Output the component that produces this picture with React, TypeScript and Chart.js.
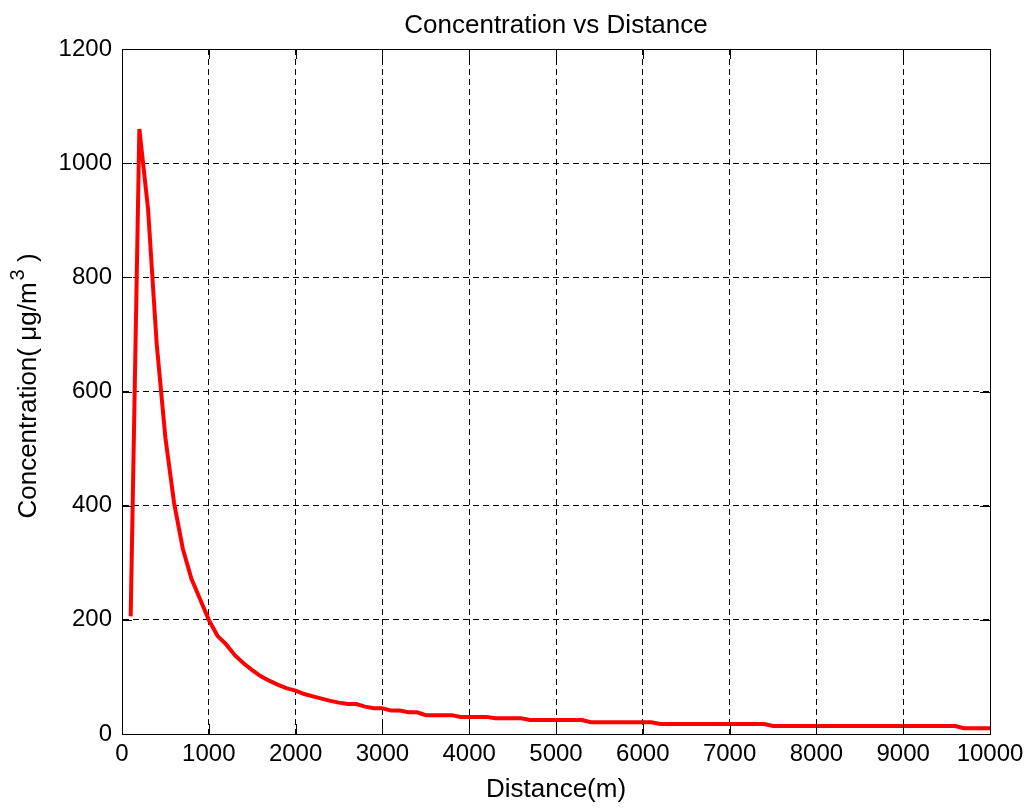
import React, { useEffect, useRef } from "react";
import { Chart, registerables } from "chart.js";

Chart.register(...registerables);

const distances: number[] = [
  100, 200, 300, 400, 500, 600, 700, 800, 900, 1000,
  1100, 1200, 1300, 1400, 1500, 1600, 1700, 1800, 1900, 2000,
  2100, 2200, 2300, 2400, 2500, 2600, 2700, 2800, 2900, 3000,
  3100, 3200, 3300, 3400, 3500, 3600, 3700, 3800, 3900, 4000,
  4100, 4200, 4300, 4400, 4500, 4600, 4700, 4800, 4900, 5000,
  5100, 5200, 5300, 5400, 5500, 5600, 5700, 5800, 5900, 6000,
  6100, 6200, 6300, 6400, 6500, 6600, 6700, 6800, 6900, 7000,
  7100, 7200, 7300, 7400, 7500, 7600, 7700, 7800, 7900, 8000,
  8100, 8200, 8300, 8400, 8500, 8600, 8700, 8800, 8900, 9000,
  9100, 9200, 9300, 9400, 9500, 9600, 9700, 9800, 9900, 10000,
];

const concentration: number[] = [
  206, 1060, 920, 683, 519, 405, 325, 272, 236, 200,
  172, 157, 138, 124, 112, 101, 93, 86, 80, 76,
  70, 66, 62, 58, 55, 52.5, 52.5, 48, 45, 45,
  41, 41, 38, 38, 33, 33, 33, 33, 30, 30,
  30, 30, 27.5, 27.5, 27.5, 27.5, 24.5, 24.5, 24.5, 24.5,
  24.5, 24.5, 24.5, 20.5, 20.5, 20.5, 20.5, 20.5, 20.5, 20.5,
  20.5, 17.5, 17.5, 17.5, 17.5, 17.5, 17.5, 17.5, 17.5, 17.5,
  17.5, 17.5, 17.5, 17.5, 14, 14, 14, 14, 14, 14,
  14, 14, 14, 14, 14, 14, 14, 14, 14, 14,
  14, 14, 14, 14, 14, 14, 10, 10, 10, 10,
];

const xTicks: number[] = [0, 1000, 2000, 3000, 4000, 5000, 6000, 7000, 8000, 9000, 10000];
const yTicks: number[] = [0, 200, 400, 600, 800, 1000, 1200];

const chartTitle = "Concentration vs Distance";
const xLabel = "Distance(m)";
const yLabelMain = "Concentration( \u03bcg/m";
const yLabelSup = "3";
const yLabelEnd = " )";

const FONT = "'Liberation Sans', Arial, Helvetica, sans-serif";

const boxPlugin = {
  id: "matlabBox",
  afterDraw(chart: any) {
    const { ctx, chartArea } = chart;
    const { left, right, top, bottom } = chartArea;
    const xs = chart.scales.x;
    const ys = chart.scales.y;
    ctx.save();
    ctx.strokeStyle = "#000";
    ctx.lineWidth = 1;
    ctx.setLineDash([]);
    ctx.beginPath();
    ctx.rect(Math.round(left) + 0.5, Math.round(top) + 0.5, Math.round(right - left), Math.round(bottom - top));
    ctx.stroke();
    const tl = 10;
    ctx.beginPath();
    xTicks.forEach((v) => {
      const px = Math.round(xs.getPixelForValue(v)) + 0.5;
      ctx.moveTo(px, bottom);
      ctx.lineTo(px, bottom - tl);
      ctx.moveTo(px, top);
      ctx.lineTo(px, top + tl);
    });
    yTicks.forEach((v) => {
      const py = Math.round(ys.getPixelForValue(v)) + 0.5;
      ctx.moveTo(left, py);
      ctx.lineTo(left + tl, py);
      ctx.moveTo(right, py);
      ctx.lineTo(right - tl, py);
    });
    ctx.stroke();

    ctx.fillStyle = "#000";
    // Title
    ctx.font = `26px ${FONT}`;
    ctx.textAlign = "center";
    ctx.textBaseline = "alphabetic";
    ctx.fillText(chartTitle, (left + right) / 2, 33);

    // Y label with superscript
    const mainFont = `26px ${FONT}`;
    const supFont = `20px ${FONT}`;
    ctx.font = mainFont;
    const w1 = ctx.measureText(yLabelMain).width;
    const w3 = ctx.measureText(yLabelEnd).width;
    ctx.font = supFont;
    const w2 = ctx.measureText(yLabelSup).width;
    const total = w1 + w2 + w3 + 2;
    const cy = 386;
    ctx.translate(36, cy);
    ctx.rotate(-Math.PI / 2);
    ctx.textAlign = "left";
    ctx.textBaseline = "alphabetic";
    let x0 = -total / 2;
    ctx.font = mainFont;
    ctx.fillText(yLabelMain, x0, 0);
    x0 += w1;
    ctx.font = supFont;
    ctx.fillText(yLabelSup, x0 + 2, -12);
    x0 += w2 + 2;
    ctx.font = mainFont;
    ctx.fillText(yLabelEnd, x0, 0);
    ctx.restore();
  },
};

export default function App() {
  const ref = useRef<HTMLCanvasElement | null>(null);

  useEffect(() => {
    document.body.style.margin = "0";
    const canvas = ref.current;
    if (!canvas) return;
    const chart = new Chart(canvas, {
      type: "line",
      data: {
        datasets: [
          {
            label: "Concentration",
            data: distances.map((d, i) => ({ x: d, y: concentration[i] })),
            borderColor: "#ff0000",
            backgroundColor: "#ff0000",
            borderWidth: 4,
            pointRadius: 0,
            tension: 0,
            fill: false,
          },
        ],
      },
      options: {
        responsive: false,
        animation: false,
        maintainAspectRatio: false,
        layout: { padding: { top: 49, right: 40, left: 0, bottom: 0 } },
        plugins: {
          legend: { display: false },
          title: { display: false },
          tooltip: { enabled: false },
        },
        scales: {
          x: {
            type: "linear",
            min: 0,
            max: 10000,
            afterBuildTicks: (scale: any) => {
              scale.ticks = xTicks.map((v) => ({ value: v }));
            },
            afterFit: (scale: any) => {
              scale.height = 74;
            },
            ticks: {
              color: "#000",
              font: { family: FONT, size: 24 },
              padding: 6,
              maxRotation: 0,
              autoSkip: false,
              callback: (v: any) => String(v),
            },
            grid: {
              color: "#000",
              lineWidth: 1,
              drawTicks: false,
            },
            border: { display: true, color: "#000", dash: [6, 4], width: 1 },
            title: {
              display: true,
              text: xLabel,
              color: "#000",
              font: { family: FONT, size: 26 },
              padding: { top: 0, bottom: 3 },
            },
          },
          y: {
            type: "linear",
            min: 0,
            max: 1200,
            afterBuildTicks: (scale: any) => {
              scale.ticks = yTicks.map((v) => ({ value: v }));
            },
            afterFit: (scale: any) => {
              scale.width = 122;
            },
            ticks: {
              color: "#000",
              font: { family: FONT, size: 24 },
              padding: 10,
              autoSkip: false,
              callback: (v: any) => String(v),
            },
            grid: {
              color: "#000",
              lineWidth: 1,
              drawTicks: false,
            },
            border: { display: true, color: "#000", dash: [6, 4], width: 1 },
            title: { display: false },
          },
        },
      },
      plugins: [boxPlugin],
    });
    return () => chart.destroy();
  }, []);

  return (
    <div style={{ position: "absolute", left: 0, top: 0, width: 1030, height: 808, background: "#fff" }}>
      <canvas ref={ref} width={1030} height={808} style={{ width: 1030, height: 808, display: "block" }} />
    </div>
  );
}
